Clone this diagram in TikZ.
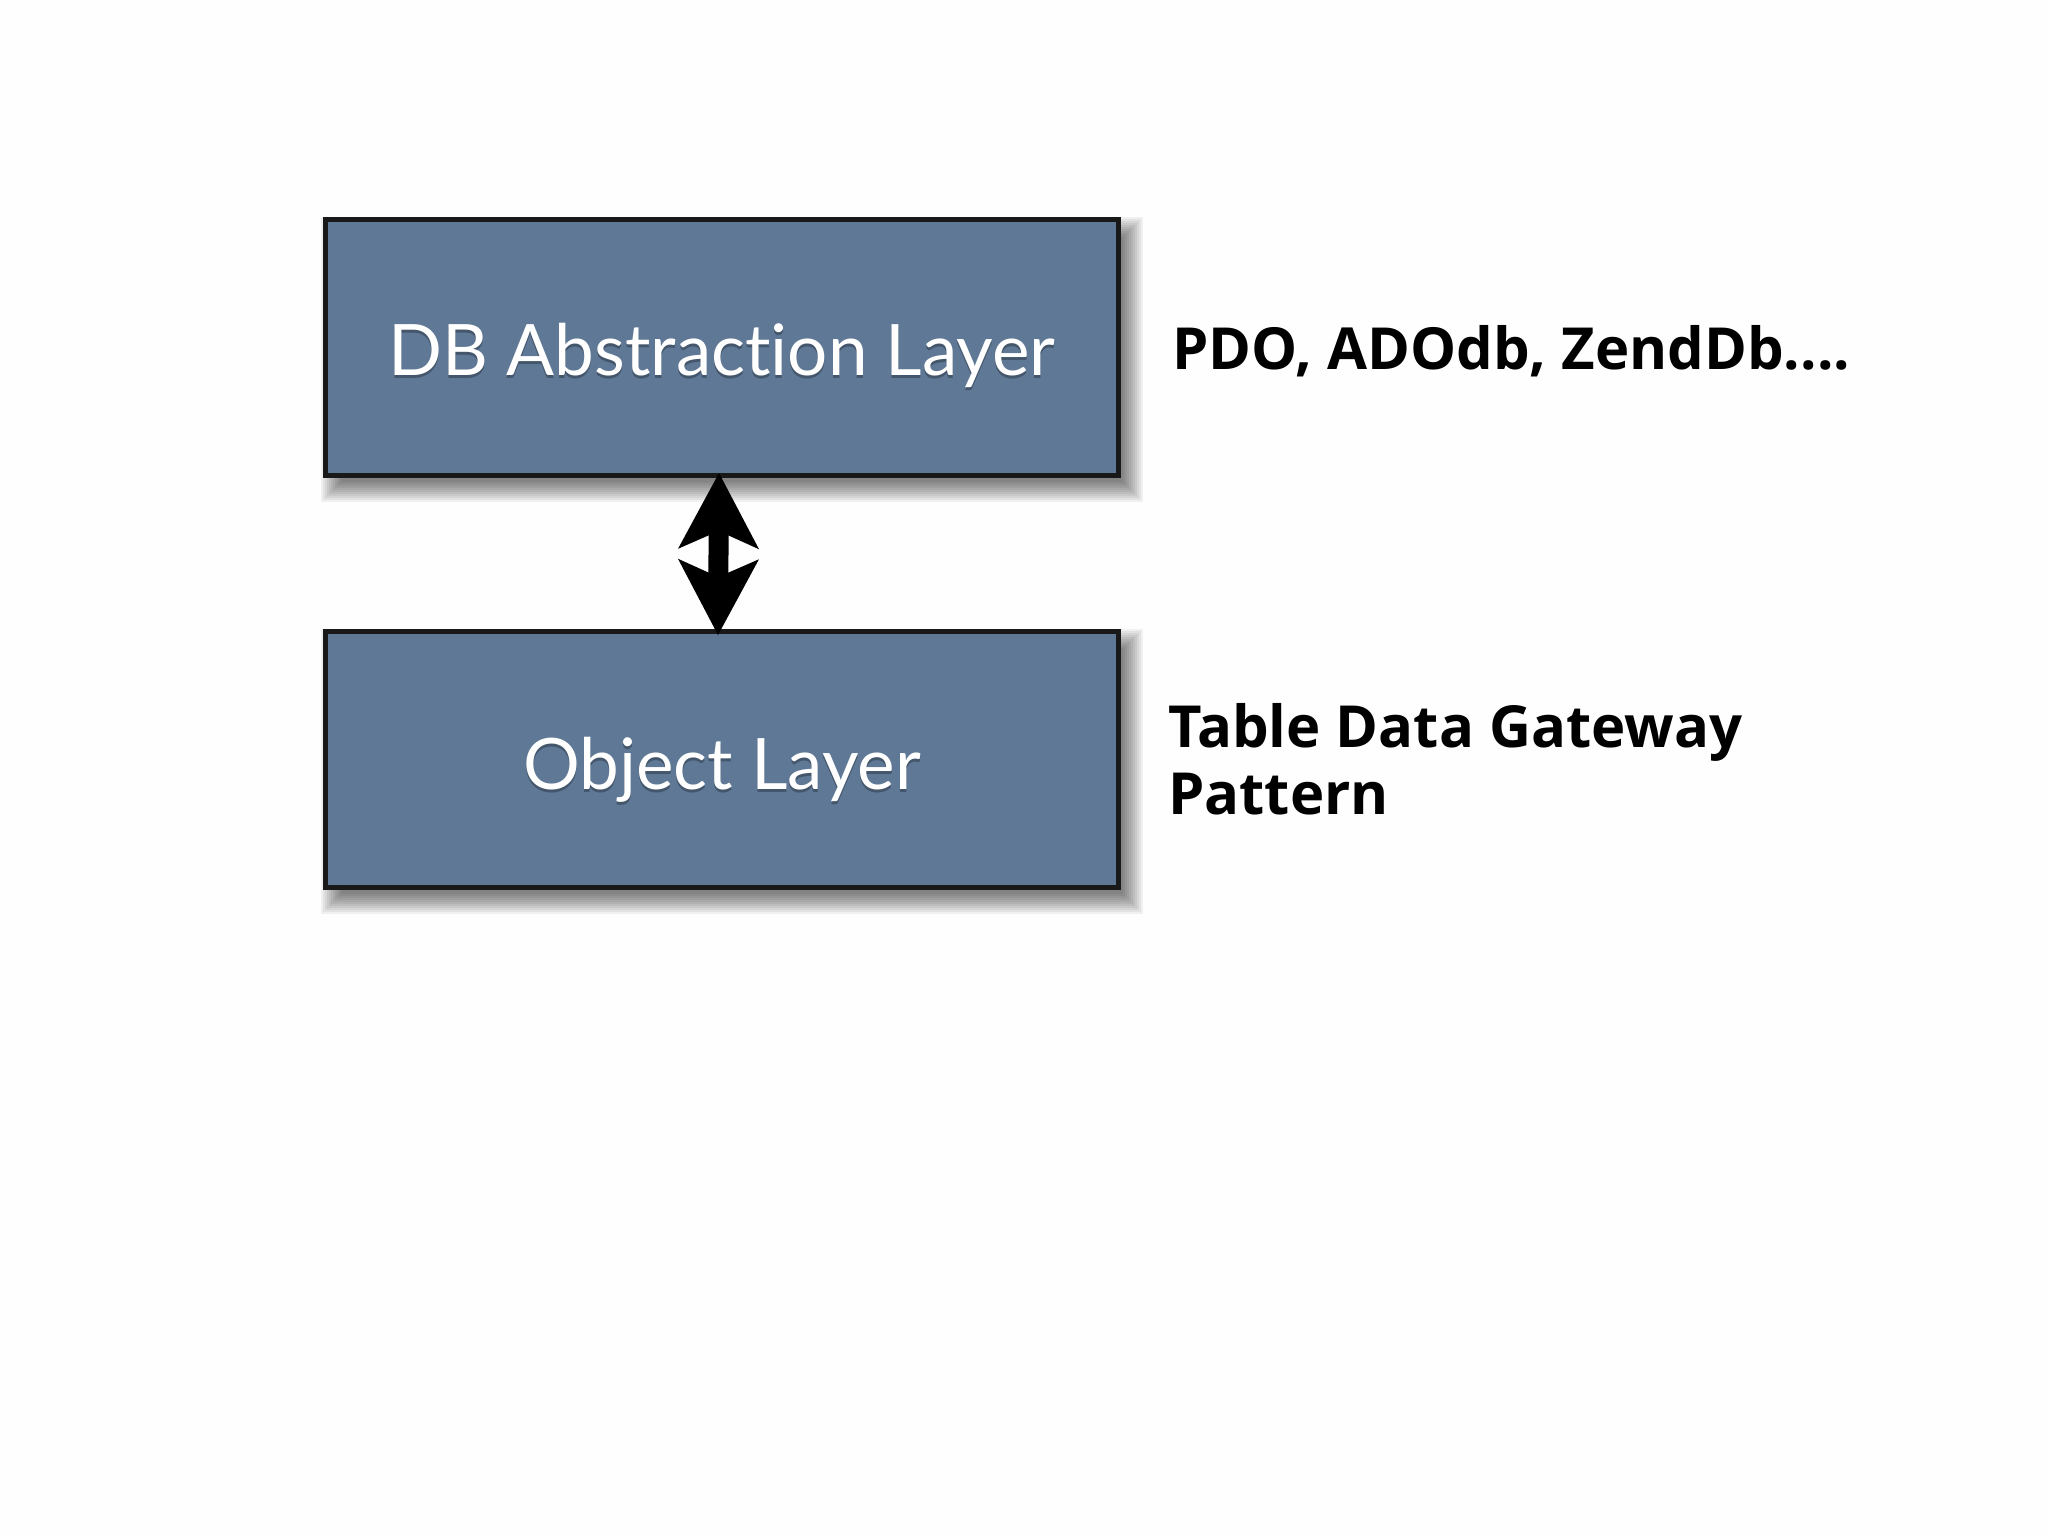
\documentclass[tikz,border=0pt]{standalone}
\usepackage{fontspec}
\setmainfont{Open Sans}
\newfontfamily\boxfont[Ligatures={NoCommon,NoRare}]{Lato}
\newfontfamily\labelfont{Open Sans}
\usetikzlibrary{arrows.meta,calc}
\definecolor{boxblue}{RGB}{95,120,149}
\definecolor{pagebg}{RGB}{254,254,254}
\tikzset{
  layerbox/.style={draw=black!90, line width=5pt, fill=boxblue, outer sep=0pt,
    minimum width=793pt, minimum height=256pt, inner sep=0pt},
  boxtext/.style={anchor=base, text=white, inner sep=0pt,
    font=\boxfont\fontsize{71}{80}\selectfont},
  boxtextshadow/.style={anchor=base, text=black, opacity=0.28, inner sep=0pt,
    font=\boxfont\fontsize{71}{80}\selectfont},
  sidelabel/.style={anchor=base west, text=black, inner sep=0pt,
    font=\labelfont\bfseries\fontsize{58}{67}\selectfont},
  dblarrow/.style={line width=20pt, black,
    arrows={Stealth[length=76pt,width=81pt,inset=18pt,line width=0pt 0]-Stealth[length=76pt,width=81pt,inset=18pt,line width=0pt 0]}},
}
\newcommand{\blurshadow}[4]{%
  \foreach \r in {-8,-6,...,12} {%
    \fill[black,opacity=0.055] ({#1+10-\r},{#2+12-\r}) rectangle ({#3+10+\r},{#4+12+\r});
  }%
}
\begin{document}
\begin{tikzpicture}[x=1pt,y=-1pt]
\useasboundingbox (0,0) rectangle (2048,1536);
\fill[pagebg] (0,0) rectangle (2048,1536);

% shadows of the boxes
\blurshadow{323}{217}{1121}{478}
\blurshadow{323}{629}{1121}{890}

% boxes
\node[layerbox] (dbl) at (722,347.5) {};
\node[layerbox] (obj) at (722,759.5) {};

% box texts
\node[boxtextshadow] at (722,378) {DB Abstraction Layer};
\node[boxtext] (dbltext) at (722,375) {DB Abstraction Layer};
\node[boxtextshadow] at (722,792) {Object Layer};
\node[boxtext] (objtext) at (722,789) {Object Layer};

% connector
\draw[dblarrow] ([xshift=-3pt,yshift=2.5pt]dbl.south) -- ([xshift=-4pt,yshift=-3.5pt]obj.north);

% side labels
\node[sidelabel] (pdo) at (1172,369) {PDO, ADOdb, ZendDb....};
\node[sidelabel] (tdg) at (1168,747) {Table Data Gateway};
\node[sidelabel] (pat) at (1168,814) {Pattern};
\end{tikzpicture}
\end{document}
